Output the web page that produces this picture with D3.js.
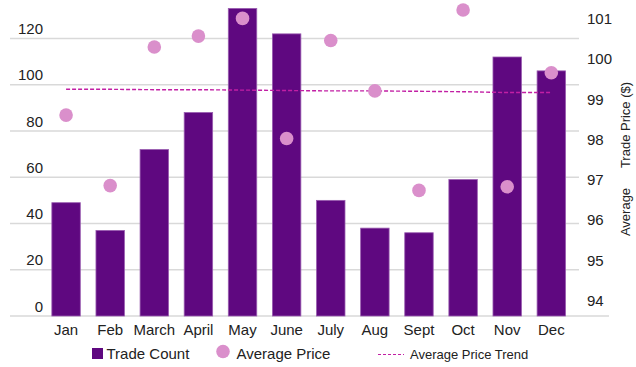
<!DOCTYPE html>
<html>
<head>
<meta charset="utf-8">
<script src="https://cdn.jsdelivr.net/npm/d3@7"></script>
<style>
  body { margin: 0; background: #fff; }
  svg { display: block; font-family: Arial, "Liberation Sans", sans-serif; }
</style>
</head>
<body>
<div id="chart"></div>
<script>
var months = ["Jan", "Feb", "March", "April", "May", "June", "July", "Aug", "Sept", "Oct", "Nov", "Dec"];
var tradeCount = [49, 37, 72, 88, 133, 122, 50, 38, 36, 59, 112, 106];
var avgPrice = [98.61, 96.86, 100.30, 100.57, 101.01, 98.03, 100.46, 99.21, 96.74, 101.22, 96.83, 99.66];
var priceTrend = [99.25, 99.25, 99.24, 99.24, 99.23, 99.22, 99.21, 99.21, 99.2, 99.19, 99.17, 99.17];
var leftTicks = [0, 20, 40, 60, 80, 100, 120];
var rightTicks = [94, 95, 96, 97, 98, 99, 100, 101];

var width = 636,
    height = 367;

var svg = d3.select("#chart").append("svg")
    .attr("width", width)
    .attr("height", height);

var x = d3.scaleBand()
    .domain(months)
    .range([44, 573.4])
    .paddingInner(0.355)
    .paddingOuter(0.178);

var yL = d3.scaleLinear().domain([0, 120]).range([316, 38.5]);
var yR = d3.scaleLinear().domain([94, 101]).range([300.8, 18.8]);

// gridlines
svg.append("g").selectAll("line")
    .data(leftTicks.filter(function(d) { return d > 0; }))
    .enter().append("line")
    .attr("x1", 10).attr("x2", 579)
    .attr("y1", function(d) { return yL(d); })
    .attr("y2", function(d) { return yL(d); })
    .style("stroke", "#d9d9d9")
    .style("stroke-width", 1.5);

svg.append("line")
    .attr("x1", 10).attr("x2", 609)
    .attr("y1", yL(0)).attr("y2", yL(0))
    .style("stroke", "#d9d9d9")
    .style("stroke-width", 1.5);

// left axis labels (sit above their gridline)
svg.append("g").selectAll("text")
    .data(leftTicks)
    .enter().append("text")
    .attr("x", 43)
    .attr("y", function(d) { return yL(d) - 4.5; })
    .attr("text-anchor", "end")
    .style("font-size", "15px")
    .style("fill", "#222")
    .text(function(d) { return d; });

// right axis labels
svg.append("g").selectAll("text")
    .data(rightTicks)
    .enter().append("text")
    .attr("x", 587)
    .attr("y", function(d) { return yR(d); })
    .attr("dy", "0.35em")
    .style("font-size", "15px")
    .style("fill", "#222")
    .text(function(d) { return d; });

// right axis title
svg.append("text")
    .attr("transform", "translate(630,125) rotate(-90)")
    .attr("text-anchor", "middle")
    .style("font-size", "13px")
    .style("fill", "#222")
    .text("Trade Price ($)");
svg.append("text")
    .attr("transform", "translate(630,212) rotate(-90)")
    .attr("text-anchor", "middle")
    .style("font-size", "13px")
    .style("fill", "#222")
    .text("Average");

// bars
svg.append("g").selectAll("rect")
    .data(tradeCount)
    .enter().append("rect")
    .attr("x", function(d, i) { return x(months[i]); })
    .attr("y", function(d) { return yL(d); })
    .attr("width", x.bandwidth())
    .attr("height", function(d) { return yL(0) - yL(d); })
    .style("fill", "#5f0880")
    .style("stroke", "#9a5cb0")
    .style("stroke-width", 0.8);

// trend line
var trendLine = d3.line()
    .x(function(d, i) { return x(months[i]) + x.bandwidth() / 2; })
    .y(function(d) { return yR(d); });

svg.append("path")
    .datum(priceTrend)
    .attr("d", trendLine)
    .style("fill", "none")
    .style("stroke", "#c21fa4")
    .style("stroke-width", 1.4)
    .style("stroke-dasharray", "4,2");

// price dots
svg.append("g").selectAll("circle")
    .data(avgPrice)
    .enter().append("circle")
    .attr("cx", function(d, i) { return x(months[i]) + x.bandwidth() / 2; })
    .attr("cy", function(d) { return yR(d); })
    .attr("r", 6.8)
    .style("fill", "#da8fcb");

// month labels
svg.append("g").selectAll("text")
    .data(months)
    .enter().append("text")
    .attr("x", function(d) { return x(d) + x.bandwidth() / 2; })
    .attr("y", 335)
    .attr("text-anchor", "middle")
    .style("font-size", "15px")
    .style("fill", "#222")
    .text(function(d) { return d; });

// legend
var legend = svg.append("g");
legend.append("rect")
    .attr("x", 92).attr("y", 348)
    .attr("width", 11).attr("height", 11)
    .style("fill", "#5f0880");
legend.append("text")
    .attr("x", 106.5).attr("y", 358.5)
    .style("font-size", "15px")
    .style("fill", "#222")
    .text("Trade Count");
legend.append("circle")
    .attr("cx", 223).attr("cy", 351.5).attr("r", 6.8)
    .style("fill", "#da8fcb");
legend.append("text")
    .attr("x", 236.5).attr("y", 358.5)
    .style("font-size", "15px")
    .style("fill", "#222")
    .text("Average Price");
legend.append("line")
    .attr("x1", 378).attr("x2", 404)
    .attr("y1", 354.5).attr("y2", 354.5)
    .style("stroke", "#c21fa4")
    .style("stroke-width", 1)
    .style("stroke-dasharray", "3,2");
legend.append("text")
    .attr("x", 410).attr("y", 358.5)
    .style("font-size", "13px")
    .style("fill", "#222")
    .text("Average Price Trend");
</script>
</body>
</html>
